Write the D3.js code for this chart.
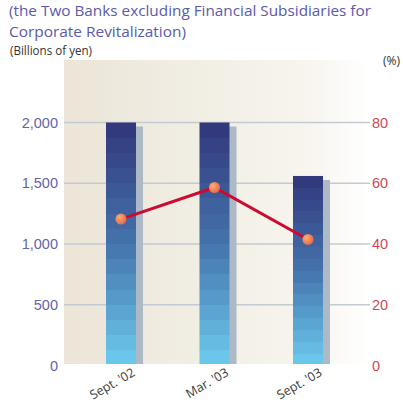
<!DOCTYPE html>
<html>
<head>
<meta charset="utf-8">
<script src="https://cdn.jsdelivr.net/npm/d3@7"></script>
<style>
  html, body { margin: 0; padding: 0; background: #fff; }
  svg { display: block; font-family: "Open Sans", "Noto Sans", sans-serif; }
</style>
</head>
<body>
<svg id="chart" width="403" height="407"></svg>
<script>
// Reserves (billions of yen) and ratio (%) by period
const categories = ["Sept. '02", "Mar. '03", "Sept. '03"];
const amounts = [2000, 2000, 1560];
const ratios = [48.2, 58.6, 41.5];
const leftTicks = [0, 500, 1000, 1500, 2000];
const rightTicks = [0, 20, 40, 60, 80];

const svg = d3.select("#chart");
const defs = svg.append("defs");

const plot = { left: 64, right: 370, top: 60, bottom: 364 };

// Plot background: warm beige fading to white
const bg = defs.append("linearGradient").attr("id", "bg").attr("x1", 0).attr("x2", 1).attr("y1", 0).attr("y2", 0);
bg.append("stop").attr("offset", 0).attr("stop-color", "#ece5d8");
bg.append("stop").attr("offset", 0.45).attr("stop-color", "#f1eee4");
bg.append("stop").attr("offset", 0.8).attr("stop-color", "#f8f5ef");
bg.append("stop").attr("offset", 1).attr("stop-color", "#ffffff");

// Stepped blue gradient for bars (16 bands, dark top to light bottom)
const barGrad = defs.append("linearGradient").attr("id", "barGrad").attr("x1", 0).attr("x2", 0).attr("y1", 0).attr("y2", 1);
const nBands = 16;
const bandColor = d3.scaleLinear().domain([0, 0.5, 1]).range(["#323a7d", "#4574ad", "#6ac6ea"]);
for (let i = 0; i < nBands; i++) {
  const c = bandColor(i / (nBands - 1));
  barGrad.append("stop").attr("offset", i / nBands).attr("stop-color", c);
  barGrad.append("stop").attr("offset", (i + 1) / nBands).attr("stop-color", c);
}

// Marker gradient
const mk = defs.append("radialGradient").attr("id", "mk").attr("cx", 0.35).attr("cy", 0.35).attr("r", 0.75);
mk.append("stop").attr("offset", 0).attr("stop-color", "#f9b070");
mk.append("stop").attr("offset", 1).attr("stop-color", "#e8604a");

const y = d3.scaleLinear().domain([0, 2000]).range([365.5, 122.5]);
const yR = d3.scaleLinear().domain([0, 80]).range([365.5, 122.5]);
const x = d3.scaleBand().domain(categories).range([106, 323]).paddingInner(0.679).paddingOuter(0);

svg.append("rect")
  .attr("x", plot.left).attr("y", plot.top)
  .attr("width", plot.right - plot.left).attr("height", plot.bottom - plot.top)
  .attr("fill", "url(#bg)");

// Gridlines
svg.append("g").selectAll("line")
  .data(leftTicks.filter(d => d > 0))
  .join("line")
  .attr("x1", plot.left).attr("x2", plot.right)
  .attr("y1", d => y(d)).attr("y2", d => y(d))
  .attr("stroke", "#c3cad2").attr("stroke-width", 1.6);

// Left axis labels
const leftAxis = d3.axisLeft(y).tickValues(leftTicks).tickSize(0).tickPadding(0).tickFormat(d3.format(","));
const gl = svg.append("g").attr("transform", "translate(58,0)").call(leftAxis);
gl.select(".domain").remove();
gl.selectAll("text").attr("fill", "#6464aa").attr("font-size", 14.5);

// Right axis labels
const rightAxis = d3.axisRight(yR).tickValues(rightTicks).tickSize(0).tickPadding(0);
const gr = svg.append("g").attr("transform", "translate(372,0)").call(rightAxis);
gr.select(".domain").remove();
gr.selectAll("text").attr("fill", "#d2465a").attr("font-size", 14.5);

// Bars with drop shadows
const clip = defs.append("clipPath").attr("id", "plotClip");
clip.append("rect").attr("x", 0).attr("y", 0).attr("width", 403).attr("height", plot.bottom);

const bars = svg.append("g").attr("clip-path", "url(#plotClip)");
bars.selectAll("rect.shadow")
  .data(amounts)
  .join("rect")
  .attr("class", "shadow")
  .attr("x", (d, i) => x(categories[i]) + 7)
  .attr("y", d => y(d) + 4)
  .attr("width", x.bandwidth())
  .attr("height", d => y(0) - y(d))
  .attr("fill", "#adbac6");
bars.selectAll("rect.bar")
  .data(amounts)
  .join("rect")
  .attr("class", "bar")
  .attr("x", (d, i) => x(categories[i]))
  .attr("y", d => y(d))
  .attr("width", x.bandwidth())
  .attr("height", d => y(0) - y(d))
  .attr("fill", "url(#barGrad)");

// Ratio line
const cx = i => x(categories[i]) + x.bandwidth() / 2;
const line = d3.line().x((d, i) => cx(i)).y(d => yR(d));
svg.append("path")
  .datum(ratios)
  .attr("d", line)
  .attr("fill", "none")
  .attr("stroke", "#cc0a32")
  .attr("stroke-width", 3);
svg.append("g").selectAll("circle")
  .data(ratios)
  .join("circle")
  .attr("cx", (d, i) => cx(i))
  .attr("cy", d => yR(d))
  .attr("r", 5.5)
  .attr("fill", "url(#mk)");

// Category labels
svg.append("g").selectAll("text")
  .data(categories)
  .join("text")
  .attr("transform", d => `translate(${x(d) + x.bandwidth() / 2 + 15},375) rotate(-30)`)
  .attr("text-anchor", "end")
  .attr("font-size", 12.5)
  .attr("fill", "#3a3a3a")
  .text(d => d);

// Two-line heading
svg.append("text").attr("x", 9).attr("y", 16).attr("font-size", 15.2).attr("fill", "#5a5aaa")
  .attr("textLength", 362).attr("lengthAdjust", "spacingAndGlyphs")
  .text("(the Two Banks excluding Financial Subsidiaries for");
svg.append("text").attr("x", 9).attr("y", 37).attr("font-size", 15.2).attr("fill", "#5a5aaa")
  .attr("textLength", 177).attr("lengthAdjust", "spacingAndGlyphs")
  .text("Corporate Revitalization)");

// Unit labels
svg.append("text").attr("x", 10).attr("y", 55).attr("font-size", 12).attr("fill", "#333")
  .attr("textLength", 82).attr("lengthAdjust", "spacingAndGlyphs")
  .text("(Billions of yen)");
svg.append("text").attr("x", 383).attr("y", 65).attr("font-size", 12).attr("fill", "#333")
  .text("(%)");
</script>
</body>
</html>
